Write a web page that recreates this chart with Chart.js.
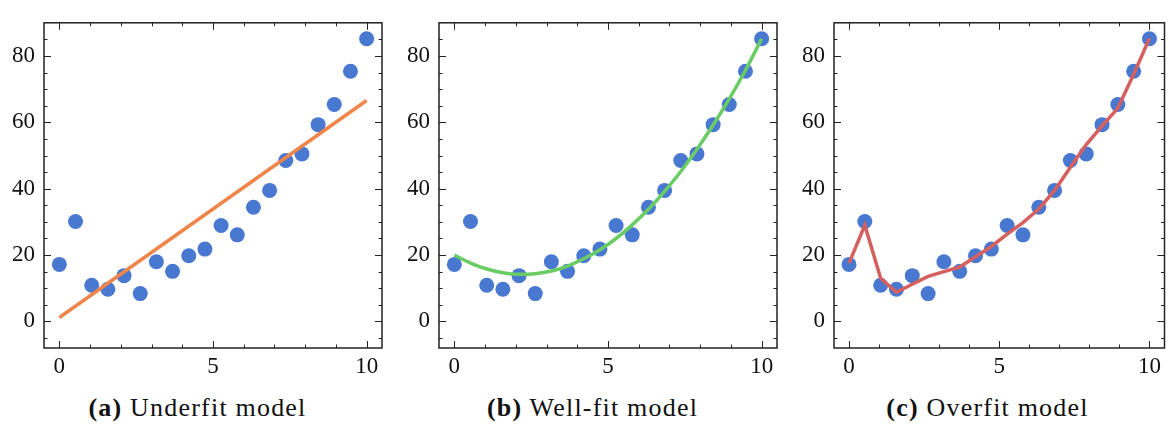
<!DOCTYPE html>
<html>
<head>
<meta charset="utf-8">
<script src="https://cdn.jsdelivr.net/npm/chart.js@4/dist/chart.umd.min.js"></script>
<style>
  body { margin: 0; background: #fff; width: 1172px; height: 426px; overflow: hidden; position: relative; }
  .panel { position: absolute; top: 0; height: 380px; }
  .cap { position: absolute; top: 394px; width: 395px; text-align: center; line-height: 28px;
         font-family: "Liberation Serif", serif; font-size: 26px; letter-spacing: 1.2px; color: #111; }
  .cap b { font-weight: bold; }
</style>
</head>
<body>
<div class="panel" style="left:0;width:395px"><canvas id="c0" width="395" height="380"></canvas></div>
<div class="panel" style="left:395px;width:395px"><canvas id="c1" width="395" height="380"></canvas></div>
<div class="panel" style="left:790px;width:382px"><canvas id="c2" width="382" height="380"></canvas></div>
<div class="cap" style="left:0"><b>(a)</b> Underfit model</div>
<div class="cap" style="left:395px"><b>(b)</b> Well-fit model</div>
<div class="cap" style="left:790px"><b>(c)</b> Overfit model</div>
<script>
const xs = [0, 0.526, 1.053, 1.579, 2.105, 2.632, 3.158, 3.684, 4.211, 4.737,
            5.263, 5.789, 6.316, 6.842, 7.368, 7.895, 8.421, 8.947, 9.474, 10];
const ys = [17.2, 30.1, 10.9, 9.7, 13.8, 8.4, 18.0, 15.1, 19.8, 21.8,
            28.9, 26.1, 34.4, 39.5, 48.5, 50.5, 59.3, 65.4, 75.4, 85.2];

// fitted lines
const underX = [0, 10];
const underY = [1.2, 66.6];
const wellY = [20.0, 17.6, 15.8, 14.7, 14.2, 14.4, 15.2, 16.7, 18.9, 21.6,
               25.0, 29.1, 33.8, 39.2, 45.2, 51.9, 59.2, 67.1, 75.7, 85.2];
const overY = [17.6, 29.0, 13.0, 8.8, 11.2, 13.6, 15.0, 16.4, 19.5, 22.6,
               26.3, 29.8, 33.9, 39.5, 46.5, 53.3, 58.9, 64.3, 74.5, 85.3];

const xTicks = [0, 5, 10];
const yTicks = [0, 20, 40, 60, 80];
const xMinor = [0, 1, 2, 3, 4, 5, 6, 7, 8, 9, 10];
const yMinor = [-5, 0, 5, 10, 15, 20, 25, 30, 35, 40, 45, 50, 55, 60, 65, 70, 75, 80, 85];

const pts = (x, y) => x.map((v, i) => ({ x: v, y: y[i] }));
const tickFont = { family: "'Liberation Serif', serif", size: 23 };

const frameTicks = {
  id: 'frameTicks',
  afterDraw(chart) {
    const ctx = chart.ctx, a = chart.chartArea;
    const sx = chart.scales.x, sy = chart.scales.y;
    ctx.save();
    ctx.strokeStyle = '#222';
    ctx.lineWidth = 1;
    const tick = (len, vx, vy) => {
      vx.forEach(v => {
        const p = Math.round(sx.getPixelForValue(v)) + 0.5;
        ctx.beginPath();
        ctx.moveTo(p, a.bottom); ctx.lineTo(p, a.bottom - len);
        ctx.moveTo(p, a.top); ctx.lineTo(p, a.top + len);
        ctx.stroke();
      });
      vy.forEach(v => {
        const p = Math.round(sy.getPixelForValue(v)) + 0.5;
        ctx.beginPath();
        ctx.moveTo(a.left, p); ctx.lineTo(a.left + len, p);
        ctx.moveTo(a.right, p); ctx.lineTo(a.right - len, p);
        ctx.stroke();
      });
    };
    tick(7, xTicks, yTicks);
    tick(3.5, xMinor, yMinor);
    ctx.lineWidth = 1.5;
    ctx.strokeRect(a.left, a.top, a.right - a.left, a.bottom - a.top);
    ctx.restore();
  }
};

function makeChart(id, lineData, color, tension, rightPad) {
  new Chart(document.getElementById(id), {
    type: 'scatter',
    data: {
      datasets: [
        {
          type: 'line',
          data: lineData,
          borderColor: color,
          borderWidth: 3.5,
          pointRadius: 0,
          tension: tension,
          cubicInterpolationMode: tension ? 'monotone' : 'default',
          order: 0
        },
        {
          data: pts(xs, ys),
          backgroundColor: '#4878d0',
          borderColor: '#4878d0',
          borderWidth: 0,
          pointRadius: 7.5,
          order: 1
        }
      ]
    },
    options: {
      responsive: false,
      animation: false,
      layout: { padding: { top: 12, right: rightPad, left: 0, bottom: 0 } },
      plugins: { legend: { display: false }, tooltip: { enabled: false } },
      scales: {
        x: {
          type: 'linear', min: -0.5, max: 10.5,
          grid: { display: false, drawTicks: false },
          border: { display: false },
          afterBuildTicks: s => { s.ticks = xTicks.map(v => ({ value: v })); },
          afterFit: s => { s.height = 32; },
          ticks: { padding: 5, color: '#111', font: tickFont }
        },
        y: {
          type: 'linear', min: -8, max: 90,
          grid: { display: false, drawTicks: false },
          border: { display: false },
          afterBuildTicks: s => { s.ticks = yTicks.map(v => ({ value: v })); },
          afterFit: s => { s.width = 44; },
          ticks: { padding: 9, color: '#111', font: tickFont }
        }
      }
    },
    plugins: [frameTicks]
  });
}

makeChart('c0', pts(underX, underY), '#ee854a', 0, 13);
makeChart('c1', pts(xs, wellY), '#6acc64', 0.4, 13);
makeChart('c2', pts(xs, overY), '#d65f5f', 0, 1);
</script>
</body>
</html>
